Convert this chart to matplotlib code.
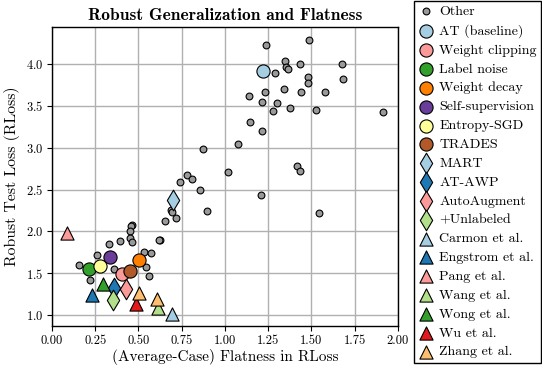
import matplotlib
matplotlib.use("Agg")
import matplotlib.pyplot as plt

plt.rcParams["font.family"] = ["cmr10", "DejaVu Serif"]
plt.rcParams["mathtext.fontset"] = "cm"
plt.rcParams["axes.formatter.use_mathtext"] = True

# other models (gray dots)
other_x = [1.237, 1.486, 1.349, 1.433, 1.351, 1.366, 1.678, 1.289, 1.478, 1.478,
           1.682, 1.139, 1.231, 1.341, 1.439, 1.576, 1.216, 1.302, 1.277, 1.374,
           1.528, 1.913, 1.146, 1.216, 1.077, 0.875, 1.414, 1.435, 1.017, 0.855,
           1.206, 0.898, 1.543, 0.778, 0.807, 0.738, 0.686, 0.692, 0.715, 0.651,
           0.624, 0.460, 0.455, 0.452, 0.450, 0.465, 0.393, 0.328, 0.618, 0.534,
           0.572, 0.258, 0.158, 0.542, 0.358, 0.559, 0.220]
other_y = [4.23, 4.28, 4.03, 4.00, 3.96, 3.94, 4.00, 3.89, 3.85, 3.77,
           3.82, 3.62, 3.66, 3.70, 3.66, 3.66, 3.55, 3.53, 3.44, 3.47,
           3.45, 3.43, 3.31, 3.20, 3.04, 2.99, 2.78, 2.72, 2.71, 2.49,
           2.44, 2.24, 2.22, 2.68, 2.63, 2.59, 2.26, 2.23, 2.16, 2.12,
           1.90, 2.08, 2.06, 2.00, 1.92, 1.87, 1.89, 1.85, 1.90, 1.75,
           1.74, 1.72, 1.60, 1.58, 1.55, 1.47, 1.42]

# highlighted methods
names = ["AT (baseline)", "Weight clipping", "Label noise", "Weight decay",
         "Self-supervision", "Entropy-SGD", "TRADES", "MART", "AT-AWP",
         "AutoAugment", "+Unlabeled", "Carmon et al.", "Engstrom et al.",
         "Pang et al.", "Wang et al.", "Wong et al.", "Wu et al.", "Zhang et al."]
xs = [1.222, 0.406, 0.216, 0.503, 0.335, 0.277, 0.451, 0.697, 0.357,
      0.428, 0.353, 0.695, 0.231, 0.087, 0.615, 0.297, 0.484, 0.609]
ys = [3.91, 1.49, 1.55, 1.66, 1.69, 1.59, 1.53, 2.37, 1.33,
      1.31, 1.18, 1.02, 1.24, 1.98, 1.09, 1.37, 1.13, 1.19]
markers = ["o"] * 7 + ["d"] * 4 + ["^"] * 7
colors = ["#a6cee3", "#fb9a99", "#33a02c", "#ff7f00", "#6a3d9a", "#ffff99",
          "#b15928", "#a6cee3", "#1f78b4", "#fb9a99", "#b2df8a", "#a6cee3",
          "#1f78b4", "#fb9a99", "#b2df8a", "#33a02c", "#e31a1c", "#fdbf6f"]

# second Zhang et al. model
zhang2_x = [0.505]
zhang2_y = [1.27]

fig = plt.figure(figsize=(5.42, 3.66), dpi=100)
ax = fig.add_axes([0.096, 0.109, 0.638, 0.817])

ax.scatter(other_x, other_y, s=24, c="#999999", edgecolors="black",
           linewidths=0.8, label="Other", zorder=3)
for n, x, y, m, c in zip(names, xs, ys, markers, colors):
    size = 110 if m == "d" else 90
    ax.scatter([x], [y], s=size, marker=m, c=c, edgecolors="black",
               linewidths=0.8, label=n, zorder=4)

ax.scatter(zhang2_x, zhang2_y, s=90, marker="^", c="#fdbf6f",
           edgecolors="black", linewidths=0.8, zorder=4)

ax.set_xlim(0.0, 2.0)
ax.set_ylim(0.87, 4.44)
ax.set_xticks([0.0, 0.25, 0.5, 0.75, 1.0, 1.25, 1.5, 1.75, 2.0])
ax.set_xticklabels(["0.00", "0.25", "0.50", "0.75", "1.00", "1.25", "1.50",
                    "1.75", "2.00"])
ax.set_yticks([1.0, 1.5, 2.0, 2.5, 3.0, 3.5, 4.0])
ax.tick_params(labelsize=9, pad=3)
ax.grid(True, color="#b0b0b0", linewidth=1.0, zorder=0)
ax.set_axisbelow(True)
for s in ax.spines.values():
    s.set_linewidth(1.0)
    s.set_color("black")

ax.set_title("Robust Generalization and Flatness", fontsize=12.5,
             fontfamily="cmb10", pad=5)
ax.set_xlabel("(Average-Case) Flatness in RLoss", fontsize=11, labelpad=1)
ax.set_ylabel("Robust Test Loss (RLoss)", fontsize=11.3)

leg = ax.legend(loc="upper left", bbox_to_anchor=(0.763, 0.997),
                bbox_transform=fig.transFigure, fontsize=10.1, frameon=True,
                fancybox=False, edgecolor="black", framealpha=1,
                handletextpad=0.38, labelspacing=0.43, borderpad=0.3,
                handlelength=1.15, borderaxespad=0)
leg.get_frame().set_linewidth(1.0)

fig.savefig("out.png", dpi=100)
